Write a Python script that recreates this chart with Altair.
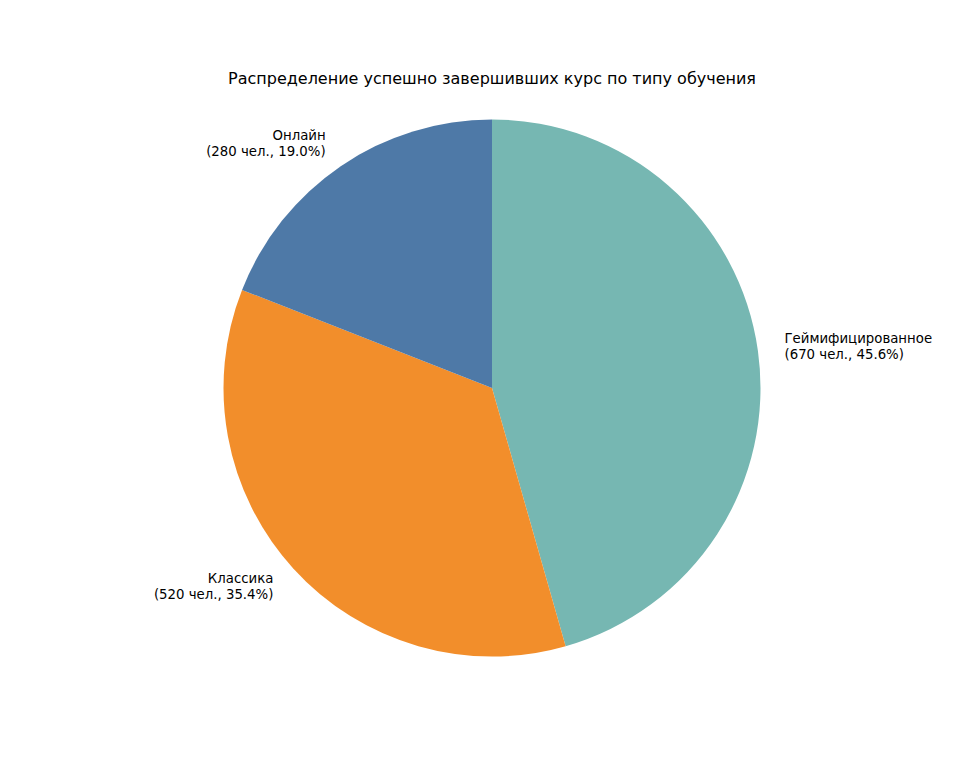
import altair as alt
import pandas as pd

categories = ["Геймифицированное", "Классика", "Онлайн"]
counts = [670, 520, 280]
colors = ["#76b7b2", "#f28e2b", "#4e79a7"]

total = sum(counts)
labels = [f"{c}\n({n} чел., {n / total * 100:.1f}%)" for c, n in zip(categories, counts)]
df = pd.DataFrame({
    "cat": categories,
    "n": counts,
    "idx": list(range(len(categories))),
    "label": labels,
})

CX, CY, R = 484, 380, 268.5

base = alt.Chart(df)

pie = base.mark_arc(radius=R).encode(
    theta=alt.Theta("n:Q", stack=True),
    color=alt.Color("cat:N", scale=alt.Scale(domain=categories, range=colors), legend=None),
    order=alt.Order("idx:Q"),
    x=alt.value(CX),
    y=alt.value(CY),
)

lab_base = base.transform_stack(
    stack="n", groupby=[], as_=["v0", "v1"], sort=[alt.SortField("idx")]
).transform_calculate(
    mid=f"(datum.v0 + datum.v1) / 2 / {total} * 2 * PI",
    side="sin((datum.v0 + datum.v1) / 2 / %d * 2 * PI) >= 0 ? 'r' : 'l'" % total,
    lines="split(datum.label, '\\n')",
)

def label_layer(side, align):
    return lab_base.transform_filter(alt.datum.side == side).mark_text(
        radius=R * 1.1, align=align, baseline="middle", fontSize=13.3,
        lineHeight=16, dy=-8, font="DejaVu Sans", color="black",
    ).encode(
        theta=alt.Theta("mid:Q", scale=None),
        text=alt.Text("lines:N"),
        x=alt.value(CX),
        y=alt.value(CY),
    )

title_df = pd.DataFrame({"t": ["Распределение успешно завершивших курс по типу обучения"]})
title = alt.Chart(title_df).mark_text(
    fontSize=16, font="DejaVu Sans", color="black", align="center", baseline="middle"
).encode(text="t:N", x=alt.value(CX), y=alt.value(71))

chart = alt.layer(pie, label_layer("r", "left"), label_layer("l", "right"), title).properties(
    width=944, height=752, autosize=alt.AutoSizeParams(type="none"), padding=0
).configure_view(strokeWidth=0)

chart.save("out.html", embed_options={"renderer": "svg", "actions": False})
